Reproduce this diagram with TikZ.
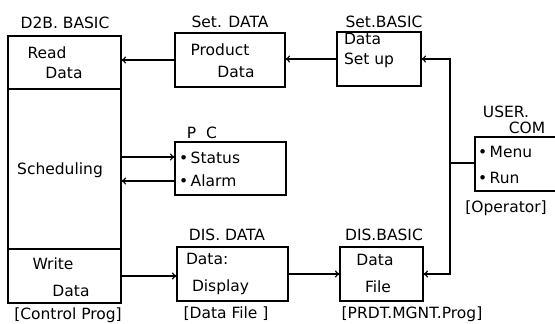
\documentclass[tikz,border=0pt]{standalone}
\usepackage{fontspec}
\setmainfont{DejaVu Sans}
\usetikzlibrary{arrows.meta}
\begin{document}
\begin{tikzpicture}[x=1pt,y=-1pt,
  every node/.style={inner sep=0pt,outer sep=0pt},
  box/.style={draw,line width=1.2pt,anchor=north west},
  txt/.style={font=\fontsize{15.5}{18}\selectfont},
  arr/.style={line width=1.2pt,-{To[length=5pt,width=7pt]}},
  ln/.style={line width=1.2pt}]
\useasboundingbox (0,0) rectangle (555,324);
% boxes
\node[box,minimum width=113pt,minimum height=53pt] (read) at (8,36) {};
\node[box,minimum width=113pt,minimum height=160pt] (sched) at (8,89) {};
\node[box,minimum width=113pt,minimum height=54pt] (write) at (8,249) {};
\node[box,minimum width=110pt,minimum height=54pt] (setdata) at (175,33) {};
\node[box,minimum width=84pt,minimum height=54pt] (setbasic) at (337,32) {};
\node[box,minimum width=111pt,minimum height=53pt] (pc) at (175,142) {};
\node[box,minimum width=111pt,minimum height=54pt] (disdata) at (177,247) {};
\node[box,minimum width=83pt,minimum height=54pt] (disbasic) at (340,247) {};
\node[anchor=north west,minimum width=85pt,minimum height=54pt] (usercom) at (475,137) {};
\draw[ln] (usercom.north east) -- (usercom.north west) -- (usercom.south west) -- (usercom.south east);
% labels
\node[txt] (l1) at (65,23) {D2B. BASIC};
\node[txt] (t1) at (47,53) {Read};
\node[txt] (t2) at (64,73) {Data};
\node[txt] (t3) at (60,170) {Scheduling};
\node[txt] (t4) at (53,264) {Write};
\node[txt] (t5) at (71,291) {Data};
\node[txt] (l2) at (68,315) {[Control Prog]};
\node[txt] (l3) at (230,22) {Set. DATA};
\node[txt] (t6) at (220,50) {Product};
\node[txt] (t7) at (236,72) {Data};
\node[txt] (l4) at (384,22) {Set.BASIC};
\node[txt,anchor=west] (t8) at (344,39) {Data};
\node[txt,anchor=west] (t9) at (344,60) {Set up};
\node[txt] (l5) at (202,133) {P\ \ C};
\node[txt,anchor=west] (t10) at (179,158) {•\,Status};
\node[txt,anchor=west] (t11) at (179,181) {•\,Alarm};
\node[txt] (l6) at (227,235) {DIS. DATA};
\node[txt,anchor=west] (t12) at (186,259) {Data:};
\node[txt,anchor=west] (t13) at (192,287) {Display};
\node[txt] (l7) at (226,314) {[Data File ]};
\node[txt] (l8) at (384,235) {DIS.BASIC};
\node[txt] (t14) at (375,260) {Data};
\node[txt] (t15) at (378,287) {File};
\node[txt] (l9) at (412,314) {[PRDT.MGNT.Prog]};
\node[txt] (l10) at (506,112) {USER.};
\node[txt] (l11) at (527,128) {COM};
\node[txt,anchor=west] (t16) at (478,152) {•\,Menu};
\node[txt,anchor=west] (t17) at (478,178) {•\,Run};
\node[txt] (l12) at (506,208) {[Operator]};
% connectors
\coordinate (j) at (450,163);
\coordinate (ys) at (0,157);
\coordinate (ya) at (0,181);
\draw[arr] (setdata.west) -- (setdata.west -| read.east);
\draw[arr] (setbasic.west) -- (setbasic.west -| setdata.east);
\draw[arr] (sched.east |- ys) -- (pc.west |- ys);
\draw[arr] (pc.west |- ya) -- (sched.east |- ya);
\draw[arr] (write.east) -- (write.east -| disdata.west);
\draw[arr] (disdata.east) -- (disdata.east -| disbasic.west);
\draw[ln] (usercom.west |- j) -- (j);
\draw[arr] (j) |- (setbasic.east);
\draw[arr] (j) |- (disbasic.east);
\end{tikzpicture}
\end{document}
